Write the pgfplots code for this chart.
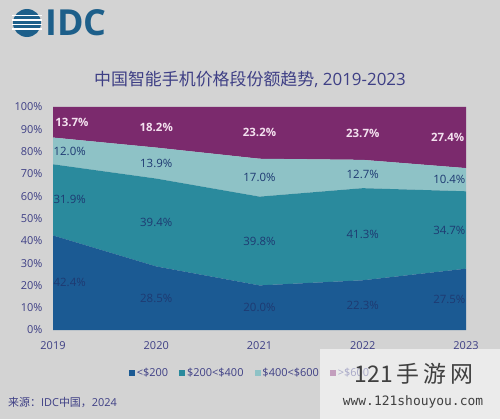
\documentclass[border=0pt]{standalone}
\usepackage{fontspec}
\usepackage{pgfplots}
\pgfplotsset{compat=1.18}
\setmainfont{Open Sans}
\newfontfamily\cjk{Noto Sans CJK SC}
\newfontfamily\monof{DejaVu Sans Mono}
\definecolor{bgc}{HTML}{D3D3D3}
\definecolor{cA}{HTML}{1B5A93}
\definecolor{cB}{HTML}{2A8A9D}
\definecolor{cC}{HTML}{8EC2C6}
\definecolor{cD}{HTML}{7B2A6D}
\definecolor{txt}{HTML}{3E3F85}
\definecolor{lab}{HTML}{1E3A72}
\definecolor{wlab}{HTML}{F3E1EF}
\definecolor{logo}{HTML}{1D5F8A}
\pgfplotsset{
  lblplot/.style={draw=none, mark=none, nodes near coords, point meta=explicit symbolic,
    nodes near coords style={font=\fontsize{11.5}{12}\selectfont, text=lab, inner sep=0pt, anchor=#1}},
  wlblplot/.style={draw=none, mark=none, nodes near coords, point meta=explicit symbolic,
    nodes near coords style={font=\fontsize{11.5}{12}\selectfont\bfseries, text=wlab, inner sep=0pt, anchor=#1}},
}
\begin{document}
\begin{tikzpicture}[x=1bp,y=1bp]
\fill[bgc] (0,0) rectangle (500,419);
\fill[logo] (27,396) circle (14);
\fill[white] (12,389) rectangle (42,390.6);
\fill[white] (12,393.5) rectangle (42,395.1);
\fill[white] (12,398) rectangle (42,399.6);
\fill[white] (12,402.5) rectangle (42,404.1);
\node[anchor=west,inner sep=0pt,text=logo,font=\fontsize{36}{36}\selectfont\bfseries] at (45,396) {IDC};
\node[text=txt,font=\fontsize{17}{19}\selectfont] at (250,340) {{\cjk 中国智能手机价格段份额趋势}, 2019-2023};
\begin{axis}[
  at={(53bp,89bp)}, anchor=south west,
  scale only axis, width=413bp, height=223bp,
  xmin=2019, xmax=2023, ymin=0, ymax=100,
  stack plots=y,
  axis line style={draw=none},
  major tick length=0pt,
  xtick={2019,2020,2021,2022,2023},
  ytick={0,10,20,30,40,50,60,70,80,90,100},
  yticklabels={0\%,10\%,20\%,30\%,40\%,50\%,60\%,70\%,80\%,90\%,100\%},
  xticklabels={2019,2020,2021,2022,2023},
  tick label style={text=txt,font=\fontsize{11}{12}\selectfont},
  yticklabel style={xshift=-7bp},
  xticklabel style={yshift=-8bp},
  legend columns=4,
  legend style={at={(0.477,-0.195)},anchor=center,draw=none,fill=none,
    text=txt,font=\fontsize{11}{12}\selectfont,
    /tikz/every even column/.append style={column sep=9bp}},
  legend image code/.code={\fill[#1] (0bp,-3bp) rectangle (6bp,3bp);},
  clip=false,
]
\addplot[draw=none,fill=cA] coordinates {(2019,42.4) (2020,28.5) (2021,20.0) (2022,22.3) (2023,27.5)} \closedcycle;
\addlegendentry{<\$200}
\addplot[draw=none,fill=cB] coordinates {(2019,31.9) (2020,39.4) (2021,39.8) (2022,41.3) (2023,34.7)} \closedcycle;
\addlegendentry{\$200<\$400}
\addplot[draw=none,fill=cC] coordinates {(2019,12.0) (2020,13.9) (2021,17.0) (2022,12.7) (2023,10.4)} \closedcycle;
\addlegendentry{\$400<\$600}
\addplot[draw=none,fill=cD] coordinates {(2019,13.7) (2020,18.2) (2021,23.2) (2022,23.7) (2023,27.4)} \closedcycle;
\addlegendentry{>\$600}
\end{axis}
\begin{axis}[
  at={(53bp,89bp)}, anchor=south west,
  scale only axis, width=413bp, height=223bp,
  xmin=2019, xmax=2023, ymin=0, ymax=100,
  hide axis, clip=false,
]
\addplot[lblplot=west] table[meta=l] {
x y l
2019.004 21.2 42.4\%
2019.004 58.35 31.9\%
2019.004 80.3 12.0\%
};
\addplot[lblplot=center] table[meta=l] {
x y l
2020 14.25 28.5\%
2020 48.2 39.4\%
2020 74.85 13.9\%
2021 10.0 20.0\%
2021 39.9 39.8\%
2021 68.3 17.0\%
2022 11.15 22.3\%
2022 42.95 41.3\%
2022 69.95 12.7\%
};
\addplot[lblplot=east] table[meta=l] {
x y l
2022.996 13.75 27.5\%
2022.996 44.85 34.7\%
2022.996 67.4 10.4\%
};
\addplot[wlblplot=west] table[meta=l] {
x y l
2019.02 93.15 13.7\%
};
\addplot[wlblplot=center] table[meta=l] {
x y l
2020 90.9 18.2\%
2021 88.4 23.2\%
2022 88.15 23.7\%
};
\addplot[wlblplot=east] table[meta=l] {
x y l
2022.985 86.3 27.4\%
};
\end{axis}
\node[anchor=west,text=txt,font=\fontsize{11}{12}\selectfont,inner sep=0pt] at (8,17) {{\cjk 来源：}IDC{\cjk 中国，}2024};
\fill[white,opacity=0.55] (320,0) rectangle (500,70);
\node[text=black!75,font=\fontsize{23}{24}\selectfont\cjk] at (414,45) {121\,手\,游\,网};
\node[text=black!75,font=\fontsize{13}{14}\selectfont\monof] at (413,17) {www.121shouyou.com};
\end{tikzpicture}
\end{document}
